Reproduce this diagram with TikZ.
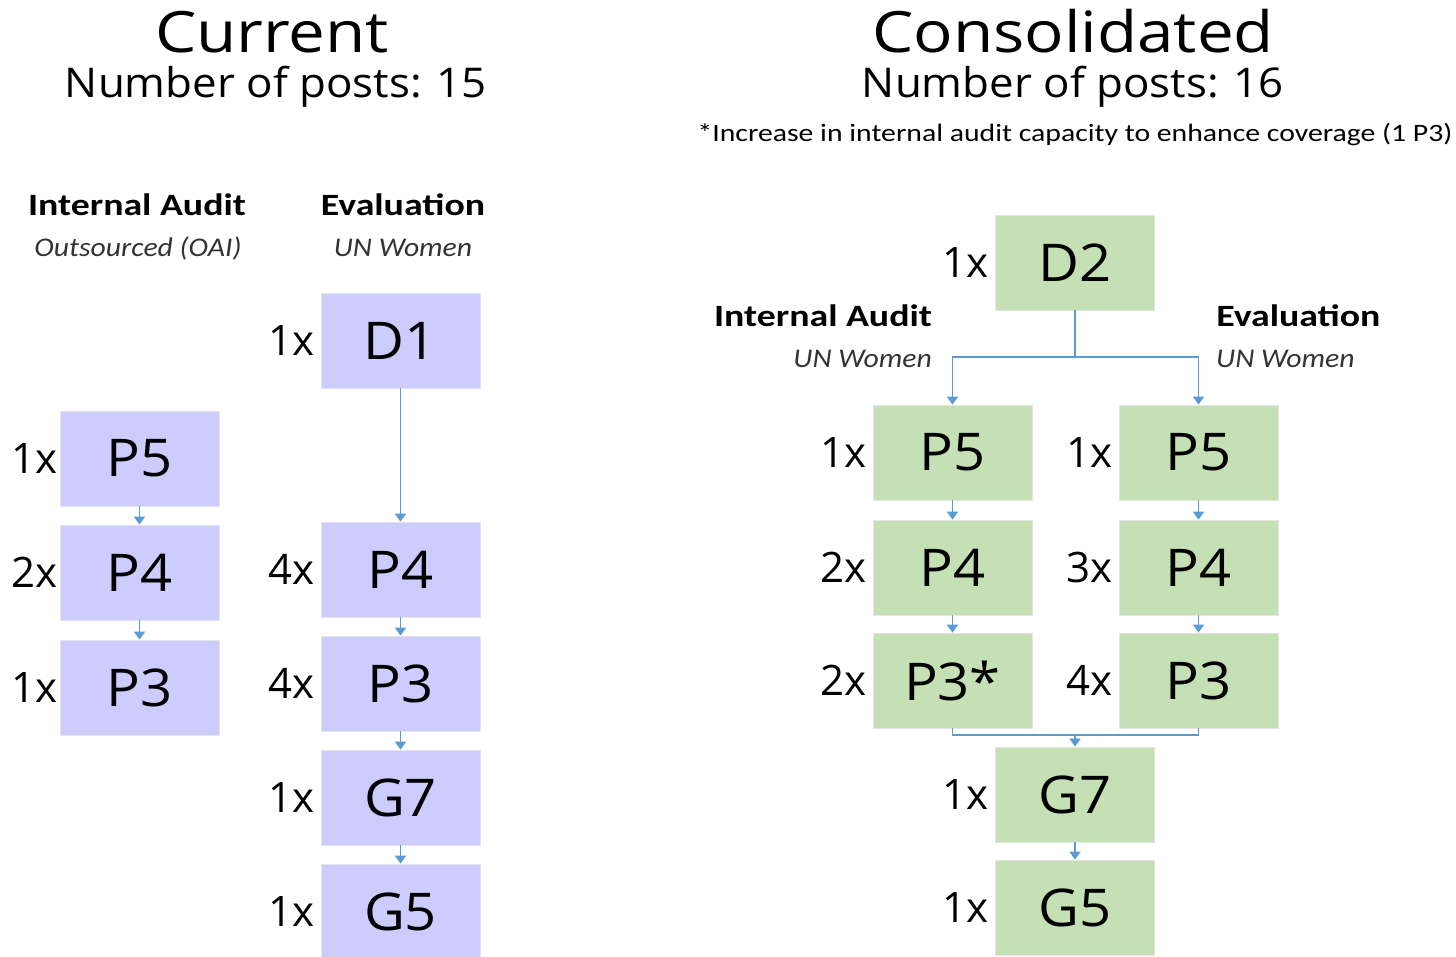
\documentclass[tikz,border=0pt]{standalone}
\usepackage{fontspec}
\usepackage{graphicx}
\setmainfont{Open Sans}
\newfontfamily\carl{Carlito}
\usetikzlibrary{arrows.meta}
\definecolor{purp}{RGB}{204,204,255}
\definecolor{grn}{RGB}{197,224,180}
\definecolor{arr}{RGB}{91,155,213}
\newcommand\bt[1]{\scalebox{1.08}[1]{#1}}
\begin{document}
\begin{tikzpicture}[x=1pt,y=-1pt,
  box/.style={minimum width=159pt, minimum height=95pt, inner sep=0pt, draw=black!10, line width=0.8pt,
     font=\fontsize{52}{56}\selectfont},
  pbox/.style={box, fill=purp},
  gbox/.style={box, fill=grn},
  mult/.style={font=\fontsize{42}{46}\selectfont, inner sep=0pt, label distance=6pt},
  multc/.style={mult, label distance=1.5pt},
  conn/.style={draw=arr, line width=1.8pt, -{Triangle[width=11pt,length=8pt]}},
  plain/.style={draw=arr, line width=1.8pt},
  head/.style={font=\carl\bfseries\fontsize{31}{34}\selectfont, inner sep=0pt, xscale=1.22},
  sub/.style={font=\carl\itshape\fontsize{27}{30}\selectfont, text=black!80, inner sep=0pt, xscale=1.1},
  title/.style={font=\fontsize{57}{60}\selectfont, inner sep=0pt, anchor=base, xscale=1.15},
  subtitle/.style={font=\fontsize{41}{44}\selectfont, inner sep=0pt, anchor=base, xscale=1.07}]
\useasboundingbox (0,0) rectangle (1456,957);
\clip (0,0) rectangle (1456,957);
% titles
\node[title] (t1) at (272,53) {Current};
\node[subtitle] (s1) at (276,98) {Number of posts: 15};
\node[title] (t2) at (1073,53) {Consolidated};
\node[subtitle] (s2) at (1073,98) {Number of posts: 16};
\node[font=\carl\fontsize{25}{28}\selectfont, inner sep=0pt, xscale=1.19] (fn) at (1075,135) {*Increase in internal audit capacity to enhance coverage (1 P3)};
% left headers
\node[head] (h1) at (137,205) {Internal Audit};
\node[sub] (u1) at (138,248) {Outsourced (OAI)};
\node[head] (h2) at (403,205) {Evaluation};
\node[sub] (u2) at (403,248) {UN Women};
% left IA
\node[pbox, label={[multc]left:1x}] (a5) at (139.5,458.5) {\bt{P5}};
\node[pbox, label={[multc]left:2x}] (a4) at (139.5,572.5) {\bt{P4}};
\node[pbox, label={[multc]left:1x}] (a3) at (139.5,687.5) {\bt{P3}};
% left Eval
\node[pbox, label={[mult]left:1x}] (d1) at (400.5,340.5) {\bt{D1}};
\node[pbox, label={[mult]left:4x}] (e4) at (400.5,569.5) {\bt{P4}};
\node[pbox, label={[mult]left:4x}] (e3) at (400.5,683.5) {\bt{P3}};
\node[pbox, label={[mult]left:1x}] (eg7) at (400.5,797.5) {\bt{G7}};
\node[pbox, label={[mult]left:1x}] (eg5) at (400.5,911.5) {\bt{G5}};
\draw[conn] (a5) -- (a4);
\draw[conn] (a4) -- (a3);
\draw[conn] (d1) -- (e4);
\draw[conn] (e4) -- (e3);
\draw[conn] (e3) -- (eg7);
\draw[conn] (eg7) -- (eg5);
% right
\node[gbox, label={[mult]left:1x}] (d2) at (1075,262.5) {\bt{D2}};
\node[head] (h3) at (823,316) {Internal Audit};
\node[sub, anchor=east] (u3) at (932,359) {UN Women};
\node[head, anchor=west] (h4) at (1216,316) {Evaluation};
\node[sub, anchor=west] (u4) at (1216,359) {UN Women};
\node[gbox, label={[mult]left:1x}] (b5) at (952.5,452.5) {\bt{P5}};
\node[gbox, label={[mult]left:2x}] (b4) at (952.5,567.5) {\bt{P4}};
\node[gbox, label={[mult]left:2x}] (b3) at (952.5,680.5) {\bt{P3*}};
\node[gbox, label={[mult]left:1x}] (c5) at (1198.5,452.5) {\bt{P5}};
\node[gbox, label={[mult]left:3x}] (c4) at (1198.5,567.5) {\bt{P4}};
\node[gbox, label={[mult]left:4x}] (c3) at (1198.5,680.5) {\bt{P3}};
\node[gbox, label={[mult]left:1x}] (g7) at (1075,794.5) {\bt{G7}};
\node[gbox, label={[mult]left:1x}] (g5) at (1075,907.5) {\bt{G5}};
\coordinate (split) at (1075,357);
\coordinate (merge) at (1075,735);
\draw[plain] (d2.south) -- (split);
\draw[conn] (split) -| (b5.north);
\draw[conn] (split) -| (c5.north);
\draw[conn] (b5) -- (b4);
\draw[conn] (b4) -- (b3);
\draw[conn] (c5) -- (c4);
\draw[conn] (c4) -- (c3);
\draw[plain] (b3.south) |- (merge) -| (c3.south);
\draw[conn] (merge) -- (g7.north);
\draw[conn] (g7) -- (g5);
\end{tikzpicture}
\end{document}
